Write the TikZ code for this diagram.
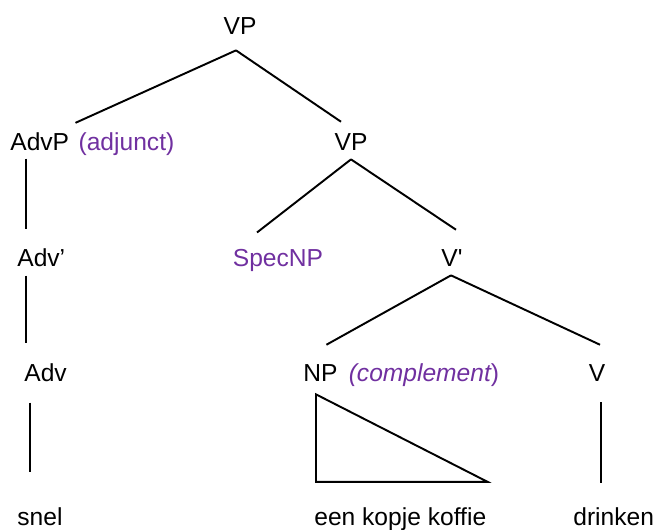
\documentclass[tikz,border=0pt]{standalone}
\usepackage{fontspec}
\setmainfont{Liberation Sans}
\usetikzlibrary{positioning}
\definecolor{rolepurple}{RGB}{112,48,160}

\tikzset{
  cat/.style={inner sep=0pt, anchor=base, font=\fontsize{14}{17}\selectfont},
  role/.style={cat, text=rolepurple},
  branch/.style={line width=1.1pt, black},
}

\begin{document}
\begin{tikzpicture}[x=0.02cm, y=-0.02cm]
\useasboundingbox (0,0) rectangle (656,529);

% === Categories ===
\node[cat] (vp0) at (240,34) {VP};

\node[cat, anchor=base west] (advp) at (10,150) {AdvP};
\node[role, base right=5pt of advp] (adj) {(adjunct)};
\node[cat] (vp1) at (351,150) {VP};

\node[cat, anchor=base west] (advbar) at (17,266) {Adv’};
\node[role] (spec) at (278,266) {SpecNP};
\node[cat] (vbar) at (452,266) {V\textquotesingle};

\node[cat, anchor=base west] (adv) at (24,381) {Adv};
\node[cat, anchor=base west] (np) at (303,381) {NP};
\node[role, base right=6pt of np] (comp) {\itshape (complement\upshape)};
\node[cat] (v) at (597,381) {V};

% === Words ===
\node[cat, anchor=base west] (snel) at (17,525) {snel};
\node[cat, anchor=base west] (koffie) at (314,525) {een kopje koffie};
\node[cat, anchor=base west] (drinken) at (573,525) {drinken};

% === Branches ===
\draw[branch] ([shift={(-4,16)}]vp0.south) -- ([shift={(6,-9)}]advp.north east);
\draw[branch] ([shift={(-4,16)}]vp0.south) -- ([shift={(-10,-11)}]vp1.north);

\draw[branch] ([shift={(16,8)}]advp.south west) -- ([shift={(9,-19)}]advbar.north west);
\draw[branch] ([shift={(0,9)}]vp1.south) -- ([shift={(-21,-16)}]spec.north);
\draw[branch] ([shift={(0,9)}]vp1.south) -- ([shift={(4,-19)}]vbar.north);

\draw[branch] ([shift={(9,9)}]advbar.south west) -- ([shift={(2,-20)}]adv.north west);
\draw[branch] ([shift={(-1,9)}]vbar.south) -- ([shift={(6,-19)}]np.north);
\draw[branch] ([shift={(-1,9)}]vbar.south) -- ([shift={(3,-19)}]v.north);

% === Lexical material ===
\draw[branch] ([shift={(6,21)}]adv.south west) -- ([shift={(13,-35)}]snel.north west);
\draw[branch, line join=miter] ([shift={(13,13)}]np.south west)
  -- ([shift={(2,-25)}]koffie.north west)
  -- ([shift={(1,-25)}]koffie.north east) -- cycle;
\draw[branch] ([shift={(4,21)}]v.south) -- ([shift={(4,-24)}]v.south |- drinken.north);

\end{tikzpicture}
\end{document}
